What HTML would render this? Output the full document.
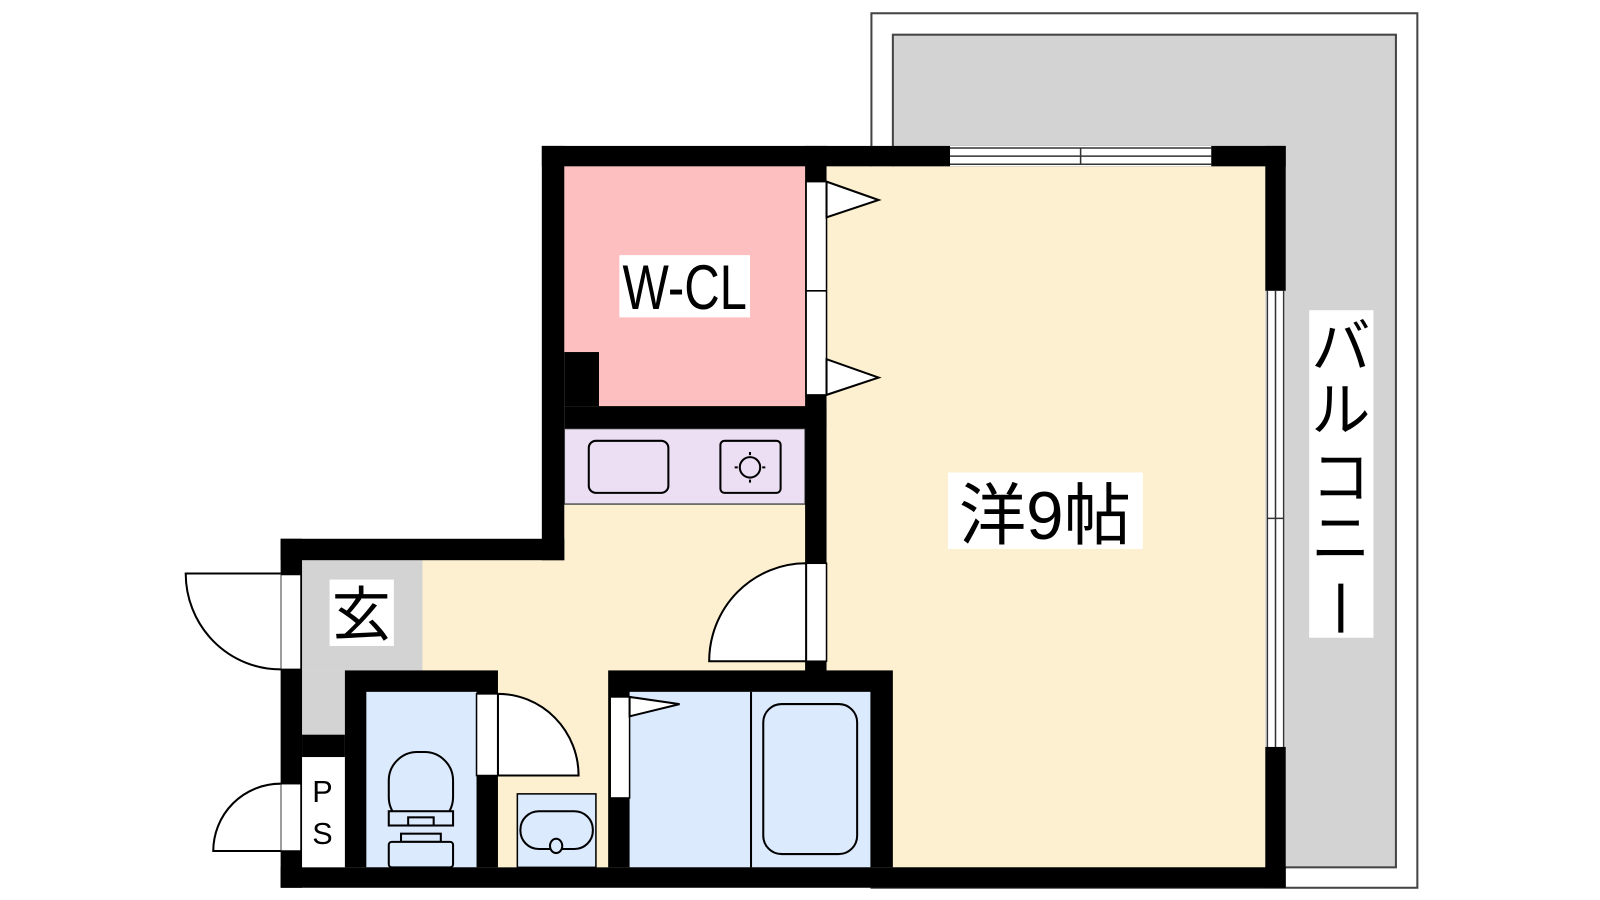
<!DOCTYPE html>
<html><head><meta charset="utf-8"><style>
html,body{margin:0;padding:0;background:#fff;width:1600px;height:900px;overflow:hidden}
svg{display:block}
text{font-family:"Liberation Sans","Noto Sans CJK JP",sans-serif;fill:#000}
</style></head><body>
<svg width="1600" height="900" viewBox="0 0 1568 882" xmlns="http://www.w3.org/2000/svg">
<rect x="0" y="0" width="1568" height="882" fill="#fff"/>
<!-- balcony -->
<rect x="854" y="13" width="535" height="857" fill="#fff" stroke="#444" stroke-width="2"/>
<rect x="875" y="34" width="493" height="816" fill="#d3d3d3" stroke="#444" stroke-width="2"/>
<!-- floor fills -->
<rect x="553" y="163" width="687" height="687" fill="#fdf0d0"/>
<rect x="296" y="549" width="300" height="301" fill="#fdf0d0"/>
<rect x="553" y="163" width="236" height="235" fill="#fdbfbf"/>
<rect x="553" y="345" width="34" height="53" fill="#000"/>
<rect x="553" y="420" width="236" height="74" fill="#ecdff3" stroke="#555" stroke-width="1.5"/>
<rect x="577" y="432" width="78" height="51" rx="7" fill="none" stroke="#000" stroke-width="2"/>
<rect x="706" y="432" width="59" height="51" rx="4" fill="none" stroke="#000" stroke-width="2"/>
<circle cx="735" cy="458" r="10" fill="none" stroke="#000" stroke-width="2"/>
<path d="M723 458h-3M747 458h3M735 446v-3M735 470v3" stroke="#000" stroke-width="2"/>
<!-- genkan -->
<rect x="296" y="549" width="118" height="108" fill="#d3d3d3"/>
<rect x="296" y="657" width="42" height="63" fill="#d3d3d3"/>
<rect x="296" y="720" width="42" height="22" fill="#000"/>
<rect x="296" y="742" width="42" height="108" fill="#fff"/>
<!-- toilet -->
<rect x="338" y="657" width="150" height="193" fill="#000"/>
<rect x="359" y="678" width="108" height="172" fill="#dbeafd"/>
<rect x="381" y="737" width="63" height="72" rx="28" fill="none" stroke="#000" stroke-width="2"/>
<rect x="381" y="795" width="63" height="14" fill="#dbeafd" stroke="#000" stroke-width="2"/>
<rect x="400" y="801" width="25" height="8" fill="#dbeafd" stroke="#000" stroke-width="2"/>
<rect x="393" y="817" width="39" height="8" fill="#dbeafd" stroke="#000" stroke-width="2"/>
<rect x="381" y="825" width="63" height="25" rx="3" fill="#dbeafd" stroke="#000" stroke-width="2"/>
<rect x="467" y="680" width="21" height="80" fill="#fff" stroke="#000" stroke-width="1.5"/>
<path d="M488 680 A79 80 0 0 1 567 760 L488 760 Z" fill="#fff" stroke="#000" stroke-width="2"/>
<!-- washbasin -->
<rect x="507" y="778" width="77" height="72" fill="#dbeafd" stroke="#000" stroke-width="1.5"/>
<rect x="510" y="795" width="71" height="37" rx="18" fill="none" stroke="#000" stroke-width="2"/>
<ellipse cx="545" cy="829" rx="6" ry="7" fill="#dbeafd" stroke="#000" stroke-width="2"/>
<!-- bath -->
<rect x="596" y="657" width="279" height="193" fill="#000"/>
<rect x="617" y="678" width="236" height="172" fill="#dbeafd"/>
<line x1="736" y1="678" x2="736" y2="850" stroke="#000" stroke-width="2"/>
<rect x="748" y="690" width="92" height="147" rx="18" fill="none" stroke="#000" stroke-width="2"/>
<rect x="598" y="683" width="19" height="99" fill="#fff" stroke="#000" stroke-width="1.5"/>
<path d="M617 683 L666 690 L617 702 Z" fill="#fff" stroke="#000" stroke-width="2"/>
<!-- walls -->
<rect x="531" y="143" width="729" height="20" fill="#000"/>
<rect x="1240" y="143" width="20" height="727" fill="#000"/>
<rect x="275" y="850" width="985" height="20" fill="#000"/>
<rect x="531" y="143" width="22" height="406" fill="#000"/>
<rect x="275" y="528" width="278" height="21" fill="#000"/>
<rect x="275" y="528" width="21" height="342" fill="#000"/>
<rect x="553" y="398" width="257" height="22" fill="#000"/>
<rect x="789" y="143" width="21" height="517" fill="#000"/>
<!-- windows -->
<rect x="931" y="143" width="256" height="20" fill="#fff"/>
<path d="M931 145H1187M931 153H1187M931 161H1187M1059 145V161" stroke="#333" stroke-width="1.5"/>
<rect x="1240" y="285" width="20" height="447" fill="#fff"/>
<path d="M1242 285V732M1250 285V732M1258 285V732M1242 508H1258" stroke="#333" stroke-width="1.5"/>
<!-- closet doors -->
<rect x="790" y="178" width="20" height="209" fill="#fff" stroke="#000" stroke-width="1.5"/>
<line x1="790" y1="285" x2="810" y2="285" stroke="#000" stroke-width="1.5"/>
<path d="M810 178 L861 196 L810 213 Z" fill="#fff" stroke="#000" stroke-width="2"/>
<path d="M810 352 L861 370 L810 387 Z" fill="#fff" stroke="#000" stroke-width="2"/>
<!-- room door -->
<rect x="790" y="552" width="20" height="96" fill="#fff" stroke="#000" stroke-width="1.5"/>
<path d="M790 552 A95 96 0 0 0 695 648 L790 648 Z" fill="#fff" stroke="#000" stroke-width="2"/>
<!-- entrance door -->
<rect x="275" y="563" width="20" height="93" fill="#fff" stroke="#000" stroke-width="1.5"/>
<path d="M275 562 L182 562 A93 94 0 0 0 275 656" fill="#fff" stroke="#000" stroke-width="2"/>
<!-- PS door -->
<rect x="275" y="768" width="20" height="66" fill="#fff" stroke="#000" stroke-width="1.5"/>
<path d="M275 768 A66 66 0 0 0 209 834 L275 834" fill="#fff" stroke="#000" stroke-width="2"/>
<!-- labels -->
<rect x="607" y="250" width="128" height="61" fill="#fff"/>
<text x="671" y="303" font-size="62" text-anchor="middle" textLength="122" lengthAdjust="spacingAndGlyphs">W-CL</text>
<rect x="929" y="463" width="191" height="75" fill="#fff"/>
<text x="1024" y="528" font-size="66" text-anchor="middle">洋9帖</text>
<rect x="323" y="568" width="63" height="65" fill="#fff"/>
<text x="354" y="623" font-size="58" text-anchor="middle">玄</text>
<text x="316" y="786" font-size="30" text-anchor="middle">P</text>
<text x="316" y="827" font-size="30" text-anchor="middle">S</text>
<rect x="1283" y="304" width="63" height="321" fill="#fff"/>
<text x="1314" y="360" font-size="58" text-anchor="middle">バ</text>
<text x="1314" y="422" font-size="58" text-anchor="middle">ル</text>
<text x="1314" y="488" font-size="58" text-anchor="middle">コ</text>
<text x="1314" y="548" font-size="58" text-anchor="middle">ニ</text>
<line x1="1314" y1="572" x2="1314" y2="620" stroke="#000" stroke-width="5"/>
</svg>
</body></html>
